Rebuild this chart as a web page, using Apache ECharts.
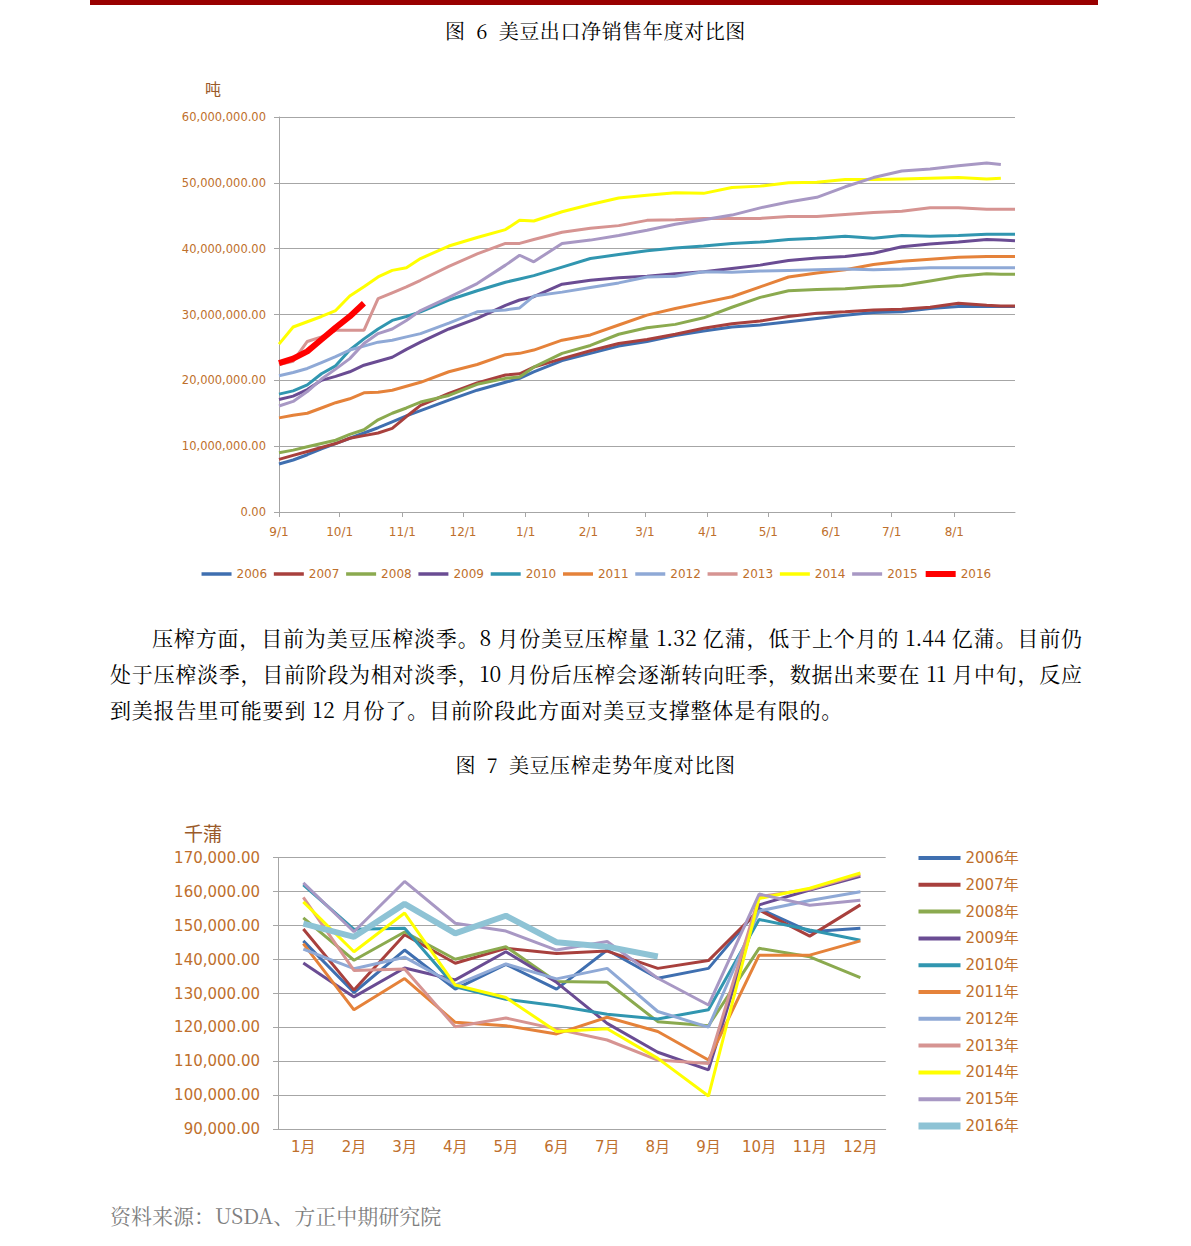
<!DOCTYPE html>
<html>
<head>
<meta charset="utf-8">
<script src="https://cdn.jsdelivr.net/npm/echarts/dist/echarts.min.js"></script>
<style>
html,body{margin:0;padding:0;background:#fff;}
body{width:1191px;height:1246px;position:relative;overflow:hidden;font-family:'Noto Serif CJK SC','Noto Sans CJK SC',serif;color:#000;}
.bar{position:absolute;left:90px;top:0;width:1008px;height:5px;background:#990000;}
.ttl{position:absolute;left:0;width:1191px;text-align:center;font-size:20px;line-height:26px;letter-spacing:0.6px;}
#c1{position:absolute;left:0;top:60px;width:1191px;height:540px;}
#c2{position:absolute;left:0;top:790px;width:1191px;height:400px;}
.para{position:absolute;left:110px;top:619px;width:972px;font-size:21px;line-height:36px;letter-spacing:0.8px;}
.para .j{text-align:justify;text-align-last:justify;letter-spacing:0;}
.src{position:absolute;left:110px;top:1197px;font-size:21px;line-height:36px;color:#7f7f7f;}
</style>
</head>
<body>
<div class="bar"></div>
<div class="ttl" style="top:18px;">图&ensp;6&ensp;美豆出口净销售年度对比图</div>
<div id="c1"></div>
<div class="para">
<div class="j" style="text-indent:42px;">压榨方面，目前为美豆压榨淡季。8 月份美豆压榨量 1.32 亿蒲，低于上个月的 1.44 亿蒲。目前仍</div>
<div class="j">处于压榨淡季，目前阶段为相对淡季，10 月份后压榨会逐渐转向旺季，数据出来要在 11 月中旬，反应</div>
<div>到美报告里可能要到 12 月份了。目前阶段此方面对美豆支撑整体是有限的。</div>
</div>
<div class="ttl" style="top:752px;">图&ensp;7&ensp;美豆压榨走势年度对比图</div>
<div id="c2"></div>
<div class="src">资料来源：USDA、方正中期研究院</div>
<script>
// ---------- Chart 1: weekly cumulative export net sales (million tonnes) ----------
const days = [0,7,14,21,28,35,42,49,56,63,70,84,98,112,119,126,140,154,168,182,196,210,224,238,252,266,280,294,308,322,336,350,357,364];
const monthDays = [0,30,61,91,122,153,181,212,242,273,303,334];
const monthLabels = ['9/1','10/1','11/1','12/1','1/1','2/1','3/1','4/1','5/1','6/1','7/1','8/1'];
const years1 = ['2006','2007','2008','2009','2010','2011','2012','2013','2014','2015','2016'];
const s2006 = [7.3,7.9,8.7,9.6,10.4,11.2,12.0,12.8,13.7,14.6,15.4,17.0,18.5,19.7,20.3,21.3,23.0,24.1,25.2,25.9,26.8,27.5,28.1,28.4,28.9,29.4,29.9,30.3,30.4,30.9,31.2,31.2,31.2,31.2];
const s2007 = [8.0,8.6,9.2,9.8,10.4,11.2,11.6,12.0,12.7,14.5,16.2,18.0,19.6,20.8,21.0,22.0,23.3,24.5,25.6,26.2,27.0,27.9,28.6,29.0,29.7,30.2,30.4,30.7,30.8,31.1,31.7,31.4,31.3,31.3];
const s2008 = [9.0,9.4,9.9,10.4,10.9,11.8,12.5,14.0,15.0,15.8,16.7,17.7,19.4,20.3,20.5,22.0,24.1,25.3,27.0,28.0,28.5,29.5,31.1,32.6,33.6,33.8,33.9,34.2,34.4,35.1,35.8,36.2,36.1,36.1];
const s2009 = [17.1,17.6,18.6,20.0,20.6,21.3,22.3,22.9,23.5,24.7,25.8,27.8,29.4,31.4,32.2,32.7,34.6,35.2,35.6,35.8,36.2,36.5,37.0,37.5,38.2,38.6,38.8,39.3,40.3,40.7,41.0,41.4,41.3,41.2];
const s2010 = [17.9,18.4,19.3,21.0,22.2,24.6,26.3,27.8,29.1,29.7,30.4,32.2,33.6,34.9,35.4,35.9,37.2,38.5,39.1,39.7,40.1,40.4,40.8,41.0,41.4,41.6,41.9,41.6,42.0,41.9,42.0,42.2,42.2,42.2];
const s2011 = [14.3,14.7,15.0,15.8,16.6,17.2,18.1,18.2,18.5,19.1,19.7,21.3,22.4,23.9,24.1,24.6,26.1,26.9,28.4,29.9,30.9,31.8,32.7,34.2,35.7,36.3,36.8,37.6,38.1,38.4,38.7,38.8,38.8,38.8];
const s2012 = [20.7,21.2,21.8,22.7,23.6,24.6,25.2,25.8,26.1,26.6,27.1,28.7,30.4,30.7,31.0,32.8,33.4,34.1,34.8,35.7,35.8,36.5,36.4,36.6,36.7,36.8,36.9,36.8,36.9,37.1,37.1,37.1,37.1,37.1];
const s2013 = [22.4,22.9,25.9,26.6,27.6,27.6,27.6,32.4,33.3,34.2,35.2,37.3,39.2,40.8,40.8,41.4,42.5,43.1,43.5,44.3,44.4,44.6,44.6,44.6,44.9,44.9,45.2,45.5,45.7,46.2,46.2,46.0,46.0,46.0];
const s2014 = [25.5,28.1,28.9,29.7,30.6,32.8,34.2,35.7,36.7,37.1,38.5,40.4,41.7,42.9,44.3,44.2,45.6,46.7,47.7,48.1,48.5,48.4,49.3,49.5,50.0,50.1,50.5,50.5,50.6,50.7,50.8,50.6,50.7,null];
const s2015 = [16.1,16.8,18.3,20.2,21.7,23.3,25.6,27.1,27.8,29.1,30.6,32.6,34.7,37.5,39.0,38.0,40.8,41.3,42.0,42.8,43.7,44.4,45.1,46.2,47.1,47.8,49.4,50.8,51.8,52.1,52.6,53.0,52.8,null];
const s2016 = [22.6,23.3,24.4,26.2,28.0,29.7,31.7];
const seriesList1 = [s2006,s2007,s2008,s2009,s2010,s2011,s2012,s2013,s2014,s2015,s2016];

// ---------- Chart 2: monthly crush (thousand bushels) ----------
const months = ['1月','2月','3月','4月','5月','6月','7月','8月','9月','10月','11月','12月'];
const years2 = ['2006年','2007年','2008年','2009年','2010年','2011年','2012年','2013年','2014年','2015年','2016年'];
const c2006 = [145500,130300,142800,131300,138600,131300,142800,134500,137400,155000,148200,149200];
const c2007 = [149000,131000,147300,138900,143300,141800,142500,137400,139700,154600,146900,156100];
const c2008 = [152300,139800,148100,140100,143800,133500,133300,121700,120500,143300,140800,134700];
const c2009 = [139000,129000,137500,134000,142300,133300,121200,112700,107500,156100,160500,164500];
const c2010 = [162000,148900,149200,132000,128300,126400,123900,122500,125200,151800,148700,145700];
const c2011 = [144700,125200,134400,121500,120500,118100,123000,118800,110400,141300,141300,145500];
const c2012 = [143100,137300,140700,132500,138700,134300,137400,124700,120100,154300,157400,160000];
const c2013 = [158300,136800,137200,120200,122800,119500,116300,110400,109400,158500,160700,165000];
const c2014 = [157000,142300,153700,132500,128800,118800,119600,110900,99800,158000,161000,165500];
const c2015 = [162600,148200,163000,150700,148400,142800,145300,134500,126600,159300,156000,157500];
const c2016 = [150600,146700,156400,147700,152900,145100,143800,140900];
const seriesList2 = [c2006,c2007,c2008,c2009,c2010,c2011,c2012,c2013,c2014,c2015,c2016];

const palette1 = ['#3F6FB0','#A8403D','#8BAA4F','#6A4C93','#3196B0','#E5823A','#8FA9D6','#D69492','#FFFF00','#A898C4','#FF0000'];
const palette2 = ['#3F6FB0','#A8403D','#8BAA4F','#6A4C93','#3196B0','#E5823A','#8FA9D6','#D69492','#FFFF00','#A898C4','#8EC3D5'];
const labelColor = '#BE6F2C';
const gridColor = '#A6A6A6';
const latin = "'DejaVu Sans','Noto Sans CJK SC',sans-serif";
const fmt2 = v => Number(v).toLocaleString('en-US',{minimumFractionDigits:2,maximumFractionDigits:2});

const c1 = echarts.init(document.getElementById('c1'), null, {renderer:'svg'});
c1.setOption({
  animation:false,
  grid:{left:279, top:57, width:736, height:395},
  legend:{
    top:503, left:'center', itemWidth:30, itemHeight:10, itemGap:5,
    itemStyle:{opacity:0},
    textStyle:{color:labelColor, fontSize:12, fontFamily:latin},
    data: years1.map(y => ({name:y, lineStyle:{width: y==='2016' ? 6 : 3.5}}))
  },
  xAxis:{
    type:'value', min:0, max:364,
    splitLine:{show:false},
    axisLine:{lineStyle:{color:gridColor}},
    axisTick:{customValues:monthDays, length:5, lineStyle:{color:gridColor}},
    axisLabel:{customValues:monthDays, formatter:v => monthLabels[monthDays.indexOf(v)], color:labelColor, fontSize:12, margin:14, fontFamily:latin}
  },
  yAxis:{
    type:'value', min:0, max:60000000, interval:10000000,
    name:'吨', nameLocation:'end', nameGap:21,
    nameTextStyle:{color:'#9A5A2A', fontSize:16, align:'right', padding:[0,58,0,0], fontFamily:"'Noto Sans CJK SC',sans-serif"},
    axisLine:{show:true, lineStyle:{color:gridColor}},
    axisTick:{show:true, length:5, lineStyle:{color:gridColor}},
    splitLine:{lineStyle:{color:gridColor, width:1}},
    axisLabel:{formatter:fmt2, color:labelColor, fontSize:11.5, margin:13, fontFamily:latin}
  },
  series: years1.map((y,i) => ({
    name:y, type:'line', symbol:'none', color:palette1[i],
    lineStyle:{width: y==='2016' ? 6 : 3, color:palette1[i]},
    data: seriesList1[i].map((v,j) => [days[j], v==null ? null : v*1000000]).filter(p => p[1]!=null)
  }))
});

const c2 = echarts.init(document.getElementById('c2'), null, {renderer:'svg'});
c2.setOption({
  animation:false,
  grid:{left:278, top:67.7, width:607.7, height:271.6},
  legend:{
    orient:'vertical', left:910, top:55, itemWidth:42, itemHeight:16, itemGap:10.8,
    itemStyle:{opacity:0},
    textStyle:{color:labelColor, fontSize:15, lineHeight:16, fontFamily:latin},
    data: years2.map(y => ({name:y, lineStyle:{width: y==='2016年' ? 7 : 4}}))
  },
  xAxis:{
    type:'category', data:months, boundaryGap:true,
    axisLine:{lineStyle:{color:gridColor}},
    axisTick:{length:5, lineStyle:{color:gridColor}},
    axisLabel:{color:labelColor, fontSize:15, margin:10, fontFamily:latin}
  },
  yAxis:{
    type:'value', min:90000, max:170000, interval:10000,
    name:'千蒲', nameLocation:'end', nameGap:16,
    nameTextStyle:{color:'#9A5A2A', fontSize:19, align:'right', padding:[0,56,0,0], fontFamily:"'Noto Sans CJK SC',sans-serif"},
    axisLine:{show:true, lineStyle:{color:gridColor}},
    axisTick:{show:true, length:5, lineStyle:{color:gridColor}},
    splitLine:{lineStyle:{color:gridColor, width:1}},
    axisLabel:{formatter:fmt2, color:labelColor, fontSize:15, margin:18, fontFamily:latin}
  },
  series: years2.map((y,i) => ({
    name:y, type:'line', symbol:'none', color:palette2[i],
    lineStyle:{width: y==='2016年' ? 6 : 3, color:palette2[i]},
    data: seriesList2[i]
  }))
});
</script>
</body>
</html>
